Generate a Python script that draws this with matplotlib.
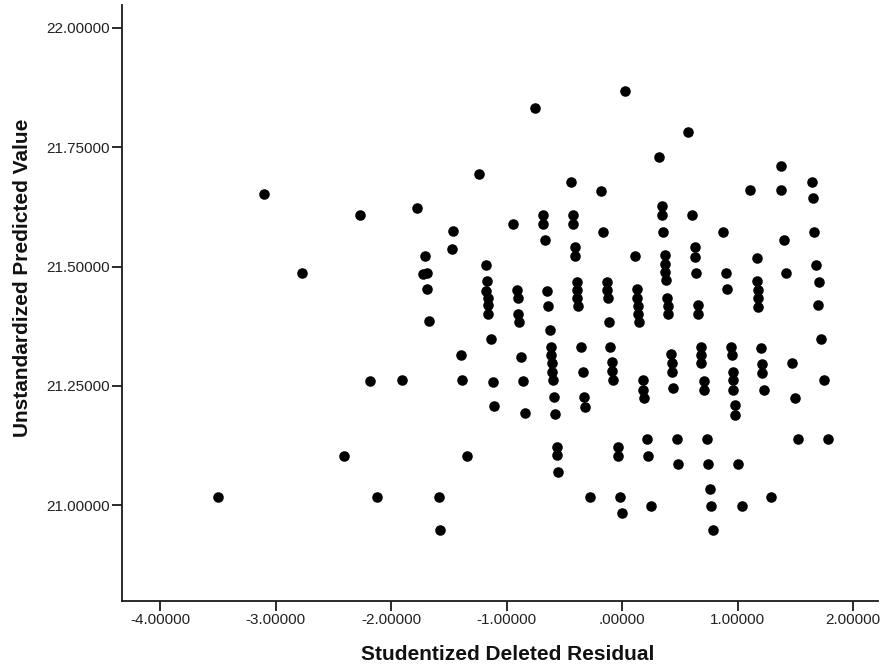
import matplotlib
matplotlib.use('Agg')
import matplotlib.pyplot as plt

# studentized deleted residual vs unstandardized predicted value
residual = [
    -3.50, -3.10, -2.77, -2.41, -2.27, -2.18, -2.12, -1.91, -1.775, -1.72,
    -1.69, -1.706, -1.686, -1.668, -1.584, -1.573, -1.46, -1.469, -1.394, -1.383,
    -1.339, -1.238,
    -1.177, -1.172, -1.177, -1.165, -1.162, -1.158, -1.137, -1.12, -1.106,
    -0.944, -0.912, -0.898, -0.898, -0.889, -0.874, -0.86, -0.84,
    -0.753,
    -0.687, -0.687, -0.672, -0.652, -0.638, -0.623, -0.615, -0.612, -0.608, -0.603,
    -0.596, -0.589, -0.58, -0.565, -0.561, -0.551,
    -0.444, -0.424, -0.424, -0.407, -0.407, -0.394, -0.394, -0.389, -0.380, -0.355,
    -0.340, -0.330, -0.320, -0.277,
    -0.182, -0.162, -0.133, -0.133, -0.125, -0.110, -0.104, -0.09, -0.085, -0.075,
    -0.04, -0.04, -0.017, -0.003, 0.023,
    0.113, 0.128, 0.131, 0.136, 0.14, 0.145, 0.18, 0.185, 0.192, 0.214,
    0.222, 0.248,
    0.32, 0.343, 0.343, 0.358, 0.37, 0.372, 0.375, 0.38, 0.39, 0.395,
    0.40, 0.425, 0.428, 0.432, 0.444, 0.474, 0.488,
    0.571, 0.609, 0.632, 0.632, 0.64, 0.655, 0.655, 0.684, 0.684, 0.687,
    0.707, 0.71, 0.733, 0.747, 0.762, 0.77, 0.79,
    0.877, 0.90, 0.906, 0.945, 0.952, 0.957, 0.962, 0.962, 0.978, 0.978,
    1.007, 1.036,
    1.11, 1.171, 1.168, 1.18, 1.18, 1.18, 1.20, 1.212, 1.215, 1.224,
    1.293,
    1.374, 1.379, 1.405, 1.42, 1.475, 1.498, 1.521,
    1.645, 1.651, 1.665, 1.68, 1.708, 1.70, 1.723, 1.749, 1.781,
]
predicted = [
    21.017, 21.651, 21.487, 21.103, 21.608, 21.259, 21.017, 21.262, 21.622, 21.485,
    21.487, 21.522, 21.452, 21.385, 21.017, 20.948, 21.574, 21.536, 21.314, 21.262,
    21.103, 21.694,
    21.504, 21.470, 21.449, 21.435, 21.419, 21.400, 21.349, 21.258, 21.207,
    21.590, 21.450, 21.435, 21.401, 21.384, 21.311, 21.261, 21.192,
    21.832,
    21.608, 21.590, 21.555, 21.449, 21.418, 21.366, 21.332, 21.314, 21.297, 21.279,
    21.262, 21.226, 21.191, 21.122, 21.105, 21.069,
    21.677, 21.608, 21.590, 21.540, 21.522, 21.468, 21.450, 21.435, 21.417, 21.331,
    21.279, 21.227, 21.206, 21.017,
    21.659, 21.573, 21.468, 21.450, 21.435, 21.384, 21.332, 21.300, 21.280, 21.262,
    21.122, 21.103, 21.017, 20.983, 21.867,
    21.522, 21.452, 21.435, 21.417, 21.401, 21.384, 21.262, 21.242, 21.224, 21.138,
    21.103, 20.999,
    21.729, 21.627, 21.608, 21.573, 21.524, 21.506, 21.489, 21.471, 21.435, 21.418,
    21.400, 21.316, 21.297, 21.279, 21.245, 21.138, 21.086,
    21.781, 21.608, 21.541, 21.520, 21.487, 21.419, 21.400, 21.332, 21.314, 21.297,
    21.260, 21.241, 21.138, 21.086, 21.034, 20.999, 20.948,
    21.573, 21.487, 21.452, 21.332, 21.314, 21.279, 21.262, 21.242, 21.210, 21.189,
    21.086, 20.999,
    21.660, 21.518, 21.469, 21.450, 21.433, 21.416, 21.330, 21.295, 21.277, 21.241,
    21.016,
    21.711, 21.660, 21.555, 21.487, 21.297, 21.224, 21.138,
    21.678, 21.643, 21.573, 21.504, 21.467, 21.419, 21.348, 21.262, 21.138,
]

x_ticks = [-4, -3, -2, -1, 0, 1, 2]
x_tick_labels = ['-4.00000', '-3.00000', '-2.00000', '-1.00000', '.00000', '1.00000', '2.00000']
y_ticks = [21.0, 21.25, 21.5, 21.75, 22.0]
y_tick_labels = ['21.00000', '21.25000', '21.50000', '21.75000', '22.00000']

plt.rcParams['font.family'] = ['Liberation Sans', 'DejaVu Sans']

fig = plt.figure(figsize=(8.8, 6.68), dpi=100)
ax = fig.add_axes([0.1386, 0.1003, 0.8591, 0.8922])

ax.plot(residual, predicted, 'o', color='black', markersize=7.6, markeredgewidth=0)

ax.set_xlim(-4.33, 2.215)
ax.set_ylim(20.799, 22.048)

ax.spines['top'].set_visible(False)
ax.spines['right'].set_visible(False)
for side in ('left', 'bottom'):
    ax.spines[side].set_linewidth(1.3)
    ax.spines[side].set_color('#1a1a1a')

ax.set_xticks(x_ticks)
ax.set_xticklabels(x_tick_labels)
ax.set_yticks(y_ticks)
ax.set_yticklabels(y_tick_labels)
ax.tick_params(axis='both', direction='out', length=7, width=1.3, color='#1a1a1a',
               labelsize=11, labelcolor='#222222')
ax.tick_params(axis='x', pad=2)
ax.tick_params(axis='y', pad=1.5)

fig.text(508 / 880, 1 - 655 / 668, 'Studentized Deleted Residual', ha='center', va='center',
         fontsize=15, fontweight='bold', color='#111111')
fig.text(23 / 880, 1 - 278 / 668, 'Unstandardized Predicted Value', ha='center', va='center',
         rotation=90, fontsize=15, fontweight='bold', color='#111111')

fig.savefig('out.png', dpi=100)
